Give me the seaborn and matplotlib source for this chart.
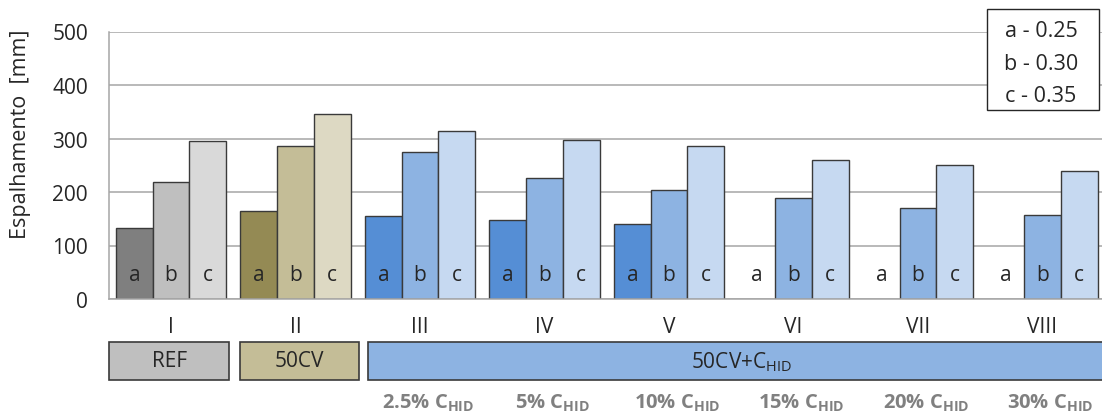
import numpy as np
import pandas as pd
import matplotlib
matplotlib.use("Agg")
import matplotlib.pyplot as plt
import matplotlib.transforms as mtrans
from matplotlib.patches import Rectangle
import seaborn as sns

# ---------------- data ----------------
groups = ["I", "II", "III", "IV", "V", "VI", "VII", "VIII"]
mixes = ["a", "b", "c"]
values_a = [133, 164, 155, 147, 140, np.nan, np.nan, np.nan]
values_b = [219, 286, 275, 226, 203, 188, 171, 157]
values_c = [295, 345, 314, 298, 286, 259, 250, 240]
legend_lines = ["a - 0.25", "b - 0.30", "c - 0.35"]
family_labels = ["REF", "50CV", "50CV+C$_{\\mathrm{HID}}$"]
pct_labels = ["2.5%", "5%", "10%", "15%", "20%", "30%"]
yticks = [0, 100, 200, 300, 400, 500]
ylabel = "Espalhamento  [mm]"

# colours per group family (a, b, c)
ref_colors = ["#7f7f7f", "#bfbfbf", "#d9d9d9"]
cv_colors = ["#948a54", "#c4bd97", "#ddd9c3"]
hid_colors = ["#558ed5", "#8db3e2", "#c6d9f1"]
group_palettes = [ref_colors, cv_colors] + [hid_colors] * 6

# ---------------- style ----------------
FONT = "Open Sans"
sns.set_style("white")
plt.rcParams["font.family"] = [FONT, "DejaVu Sans"]
plt.rcParams["mathtext.fontset"] = "custom"
plt.rcParams["mathtext.rm"] = FONT
plt.rcParams["mathtext.bf"] = FONT + ":bold"

W, H = 1102, 414
fig = plt.figure(figsize=(W / 100, H / 100), dpi=100)

def fx(x):
    return x / W

def fy(y):
    return 1 - y / H

ax_left, ax_right, ax_top, ax_bottom = 108.75, 1104.75, 32.5, 300
ax = fig.add_axes([fx(ax_left), fy(ax_bottom), (ax_right - ax_left) / W, (ax_bottom - ax_top) / H])

df = pd.DataFrame({
    "group": np.repeat(groups, 3),
    "mix": mixes * len(groups),
    "value": np.ravel(np.column_stack([values_a, values_b, values_c])),
}).dropna()

bar_width = 0.884
sns.barplot(data=df, x="group", y="value", hue="mix", order=groups, hue_order=mixes,
            width=bar_width, errorbar=None, legend=False, saturation=1,
            edgecolor="#3a3a3a", linewidth=1.0, ax=ax)

bw = bar_width / 3
for p in ax.patches:
    cx = p.get_x() + p.get_width() / 2
    gi = int(round(cx))
    k = int(round((cx - gi) / bw)) + 1
    p.set_facecolor(group_palettes[gi][k])
    p.set_zorder(2)

txt_color = "#262626"
# letters inside bars
for gi in range(len(groups)):
    for k, m in enumerate(mixes):
        ax.text(gi + (k - 1) * bw, 35, m, ha="center", va="baseline",
                fontsize=15, color=txt_color, zorder=5)

ax.set_xlim(-0.5, 7.5)
ax.set_ylim(0, 500)
ax.set_yticks(yticks)
ax.set_xticks([])
ax.set_xlabel("")
ax.set_ylabel("")
ax.tick_params(axis="y", length=0, pad=15, labelsize=15, labelcolor=txt_color)
ax.yaxis.grid(True, color="#a6a6a6", linewidth=1.1)
ax.set_axisbelow(True)
for s in ["top", "right"]:
    ax.spines[s].set_visible(False)
for s in ["left", "bottom"]:
    ax.spines[s].set_color("#a6a6a6")
    ax.spines[s].set_linewidth(1.1)

# y label
fig.text(fx(21), fy(134), ylabel, rotation=90, ha="center", va="center",
         fontsize=15.5, color=txt_color)

# roman numerals under groups
for gi, g in enumerate(groups):
    ax.text(gi, -62, g, ha="center", va="baseline", fontsize=15,
            color=txt_color, clip_on=False)

# legend box
fig.add_artist(Rectangle((fx(987), fy(111)), (1099 - 987) / W, (111 - 10) / H,
                         transform=fig.transFigure, facecolor="white",
                         edgecolor="#262626", linewidth=1.0, zorder=10))
for i, line in enumerate(legend_lines):
    fig.text(fx(1041), fy(37 + i * 32.5), line, ha="center", va="baseline",
             fontsize=15.5, color=txt_color, zorder=11)

# family boxes
box_specs = [(109.3, 229.3, "#bfbfbf", 169.3),
             (239.6, 359.0, "#c4bd97", 299.3),
             (368.4, 1120.0, "#8db3e2", 742.0)]
for (x0, x1, col, tx), lab in zip(box_specs, family_labels):
    fig.add_artist(Rectangle((fx(x0), fy(380.7)), (x1 - x0) / W, (380.7 - 343.3) / H,
                             transform=fig.transFigure, facecolor=col,
                             edgecolor="#3a3a3a", linewidth=1.2, zorder=3))
    fig.text(fx(tx), fy(362), lab, ha="center", va="center", fontsize=15,
             color=txt_color, zorder=4)

# percentage labels
blend = mtrans.blended_transform_factory(ax.transData, fig.transFigure)
for i, pct in enumerate(pct_labels):
    gi = i + 2
    ax.text(gi + 0.065, fy(409), pct + " C$_{\\mathbf{HID}}$", transform=blend,
            ha="center", va="baseline", fontsize=14.5, fontweight="bold",
            color="#808080", clip_on=False)

fig.savefig("out.png", dpi=100)
